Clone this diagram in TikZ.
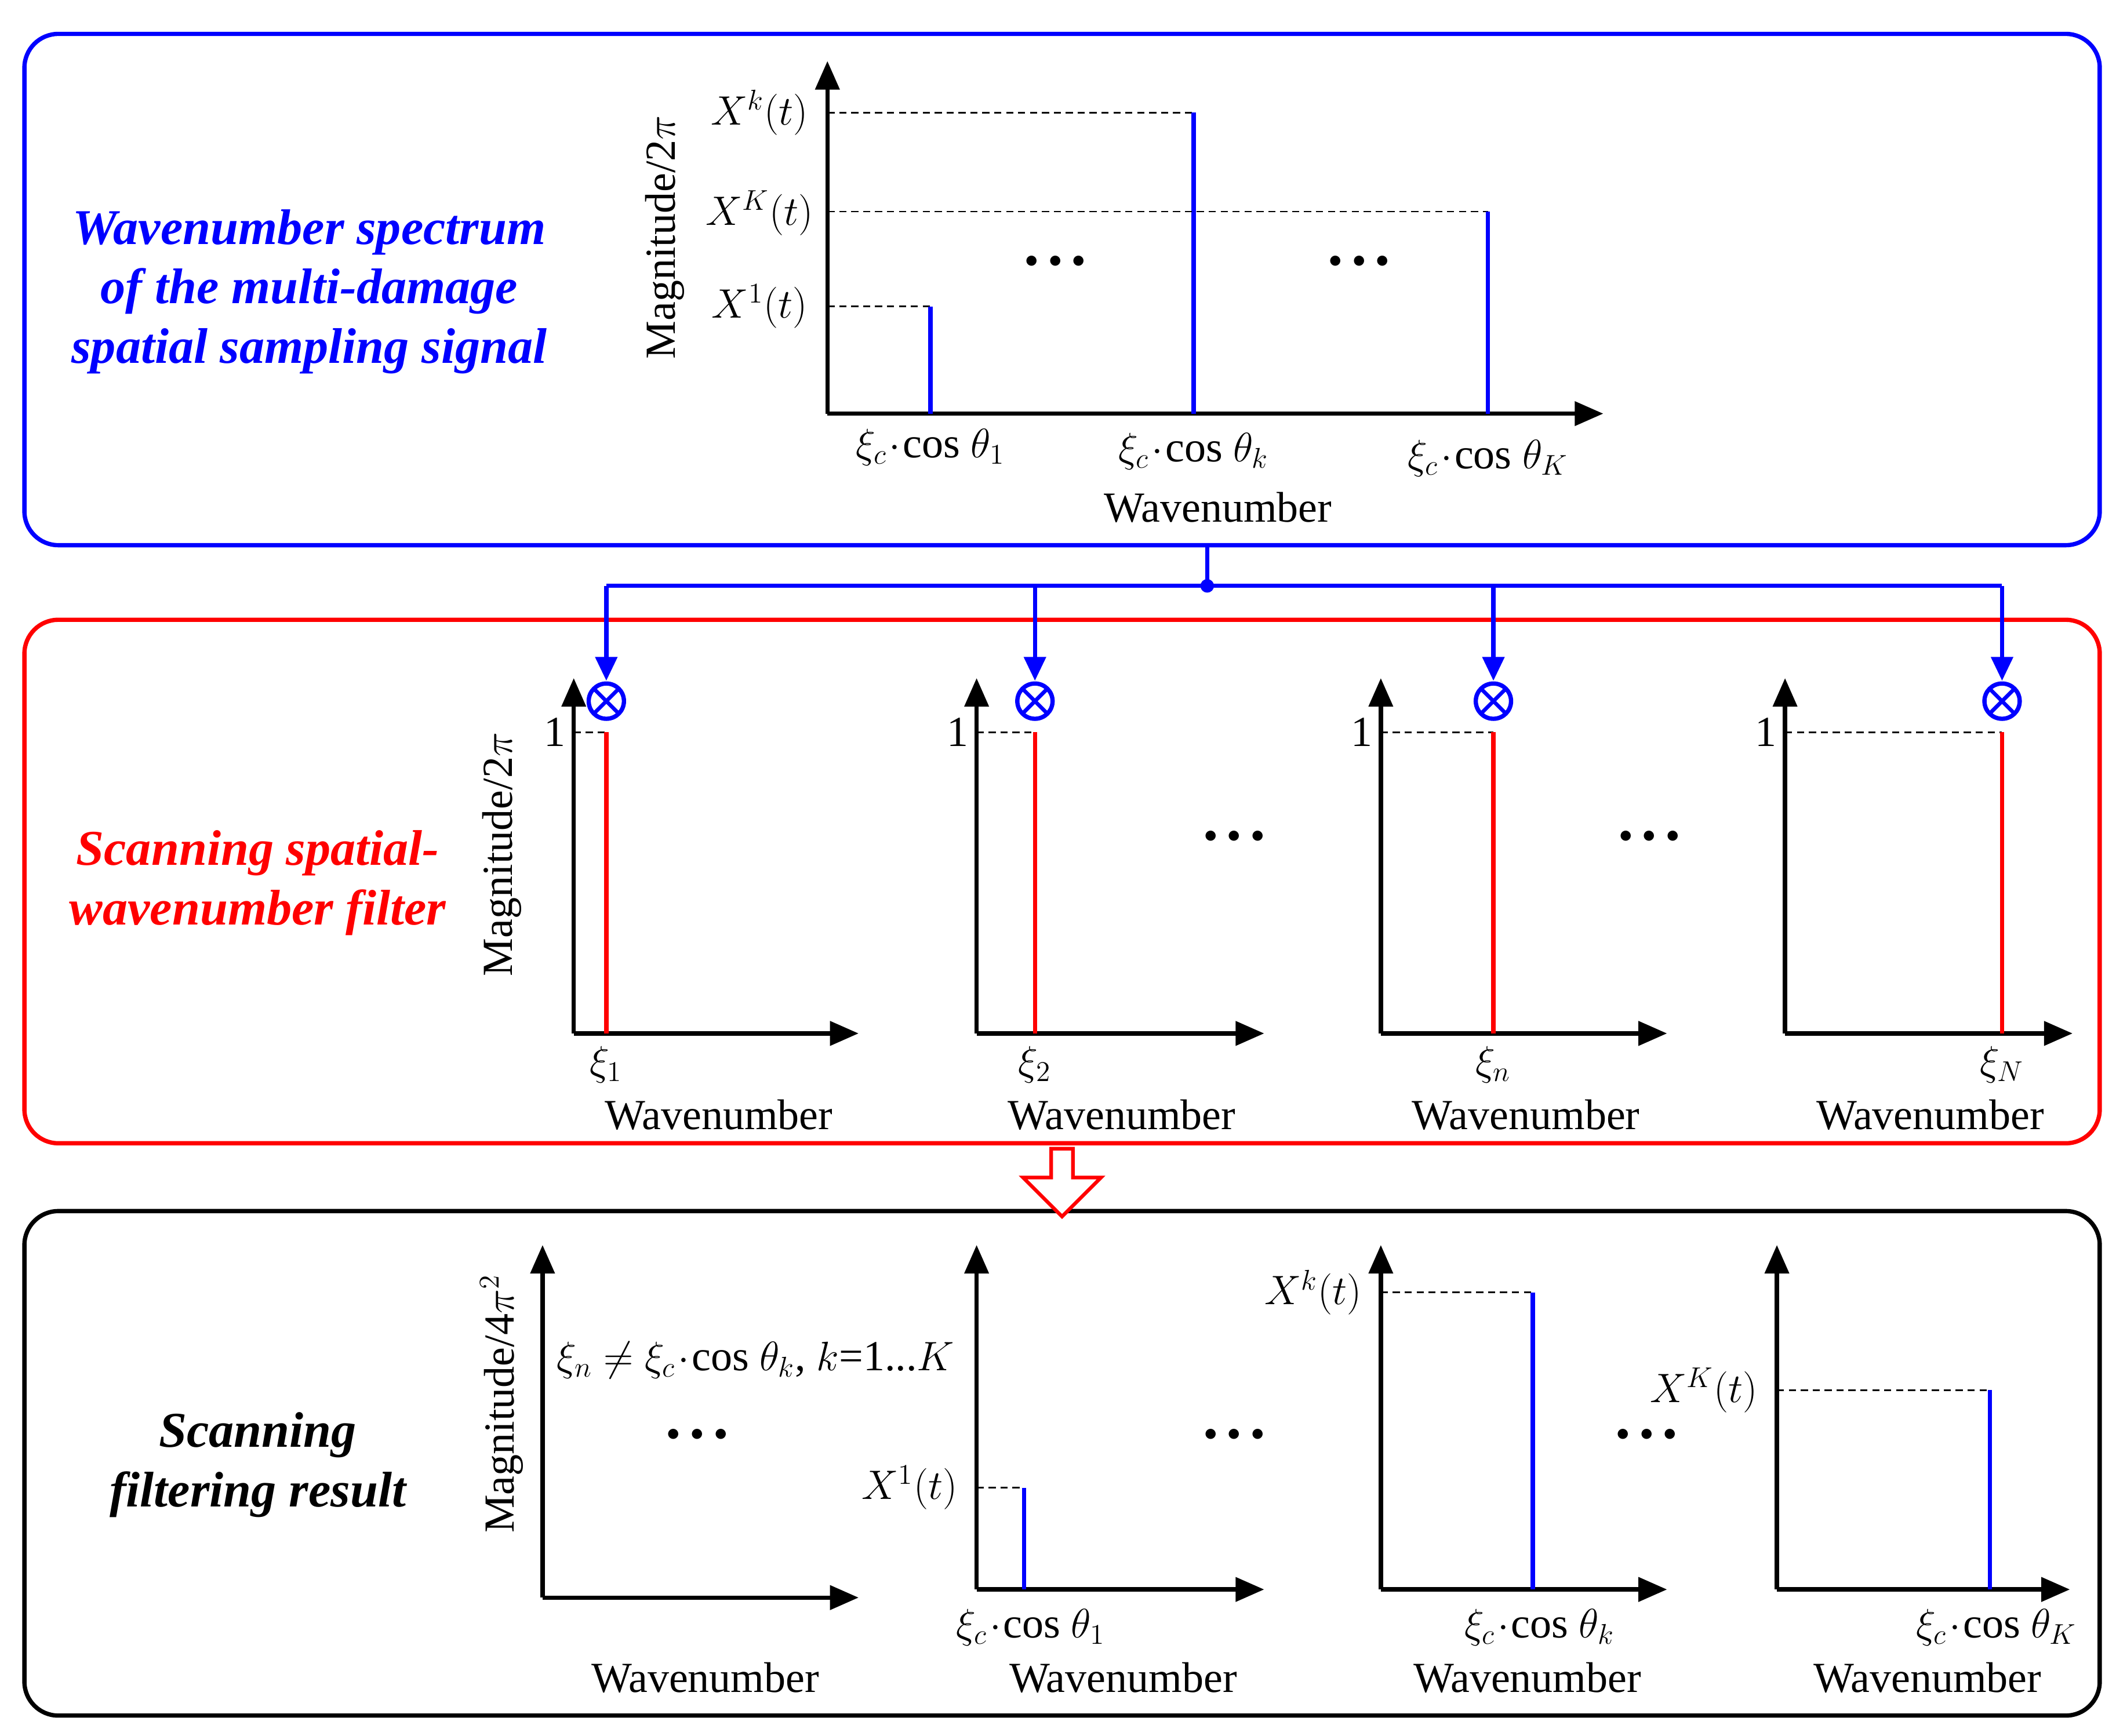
\documentclass[tikz,border=0pt]{standalone}
\usepackage{fontspec}
\setmainfont{Liberation Serif}
\usetikzlibrary{arrows.meta,shapes.arrows}
\newcommand{\mydots}{$\bullet\hspace{2pt}\bullet\hspace{2pt}\bullet$}
\begin{document}
\begin{tikzpicture}[x=0.02cm,y=-0.02cm,
 box/.style={line width=1.8pt,rounded corners=0.5cm},
 ax/.style={line width=1.8pt,-{Triangle[length=12pt,width=10pt]}},
 sig/.style={line width=1.8pt},
 dsh/.style={densely dashed,line width=0.7pt},
 lab/.style={font=\fontsize{18}{20}\selectfont,inner sep=1pt},
 ttl/.style={font=\fontsize{21}{25}\selectfont\bfseries\itshape,align=center},
 dots/.style={font=\fontsize{11}{11}\selectfont,inner sep=0pt}]
\useasboundingbox (0,0) rectangle (1560,1280);
% boxes
\draw[box,blue] (18,25) rectangle (1548,402);
\draw[box,red] (18,457) rectangle (1548,843);
\draw[box,black] (18,893) rectangle (1548,1265);
% titles
\node[ttl,blue] at (228,215) {Wavenumber spectrum\\of the multi-damage\\spatial sampling signal};
\node[ttl,red] at (190,651) {Scanning spatial-\\wavenumber filter};
\node[ttl,black] at (190,1080) {Scanning\\filtering result};
% top plot
\coordinate (o) at (610,305);
\draw[ax] (o) -- (610,45);
\draw[ax] (o) -- (1182,305);
\draw[dsh] (610,226) -- (686,226); \draw[sig,blue] (686,305) -- (686,226);
\draw[dsh] (610,83) -- (880,83); \draw[sig,blue] (880,305) -- (880,83);
\draw[dsh] (610,156) -- (1097,156); \draw[sig,blue] (1097,305) -- (1097,156);
\node[lab] at (560,83) {$X^{k}(t)$};
\node[lab] at (560,157) {$X^{K}(t)$};
\node[lab] at (560,226) {$X^{1}(t)$};
\node[dots] at (778,193) {\mydots};
\node[dots] at (1002,193) {\mydots};
\node[lab] at (686,330) {$\xi_c\!\cdot\!\mathrm{cos}\ \theta_1$};
\node[lab] at (880,333) {$\xi_c\!\cdot\!\mathrm{cos}\ \theta_k$};
\node[lab] at (1097,338) {$\xi_c\!\cdot\!\mathrm{cos}\ \theta_K$};
\node[lab] at (898,374) {Wavenumber};
\node[lab,rotate=90] at (490,175) {Magnitude/2$\pi$};
% connectors
\coordinate (s) at (890,402);
\coordinate (j) at (890,432);
\draw[blue,line width=1.8pt] (s) -- (j);
\fill[blue] (j) circle (5);
\draw[blue,line width=1.8pt] (447,432) -- (1476,432);
\foreach \x in {447,763,1101,1476}{
 \draw[blue,line width=1.8pt,-{Triangle[length=10pt,width=9pt]}] (\x,432) -- (\x,502);
 \draw[blue,line width=1.8pt] (\x,517) circle (13);
 \draw[blue,line width=1.6pt] (\x-9,508) -- (\x+9,526) (\x-9,526) -- (\x+9,508);
}
% middle plots
\foreach \ox/\ex/\lx/\xl in {423/633/447/1, 720/932/763/2, 1018/1229/1101/n, 1316/1528/1476/N}{
 \draw[ax] (\ox,762) -- (\ox,500);
 \draw[ax] (\ox,762) -- (\ex,762);
 \draw[dsh] (\ox,540) -- (\lx,540);
 \draw[sig,red] (\lx,762) -- (\lx,540);
 \node[lab,anchor=east] at (\ox-4,540) {1};
 \node[lab] at (\lx,785) {$\xi_{\xl}$};
 \node[lab] at (\ox+107,822) {Wavenumber};
}
\node[dots] at (910,617) {\mydots};
\node[dots] at (1216,617) {\mydots};
\node[lab,rotate=90] at (370,630) {Magnitude/2$\pi$};
% hollow arrow
\node[single arrow,draw=red,fill=white,line width=1.5pt,rotate=-90,minimum height=1.0cm,minimum width=1.15cm,single arrow head extend=0.25cm,inner sep=2pt] at (783,868) {};
% bottom plots
\draw[ax] (400,1178) -- (400,918);
\draw[ax] (400,1178) -- (633,1178);
\node[lab] at (557,1003) {$\xi_n\neq\xi_c\!\cdot\!\mathrm{cos}\ \theta_k$, $k$=1...$K$};
\node[dots] at (514,1058) {\mydots};
\node[lab] at (520,1237) {Wavenumber};
\node[lab,rotate=90] at (370,1035) {Magnitude/4$\pi^2$};
\foreach \ox/\ex/\lx/\ty/\sp/\th/\wx in {720/932/755/1097/1/1/828, 1018/1229/1130/953/k/k/1126, 1310/1526/1467/1025/K/K/1421}{
 \draw[ax] (\ox,1172) -- (\ox,918);
 \draw[ax] (\ox,1172) -- (\ex,1172);
 \draw[dsh] (\ox,\ty) -- (\lx,\ty);
 \draw[sig,blue] (\lx,1172) -- (\lx,\ty);
 \node[lab,anchor=east] at (\ox-12,\ty) {$X^{\sp}(t)$};
 \node[lab] at (\lx+5,1200) {$\xi_c\!\cdot\!\mathrm{cos}\ \theta_{\th}$};
 \node[lab] at (\wx,1237) {Wavenumber};
}
\node[dots] at (910,1058) {\mydots};
\node[dots] at (1214,1058) {\mydots};
\end{tikzpicture}
\end{document}
